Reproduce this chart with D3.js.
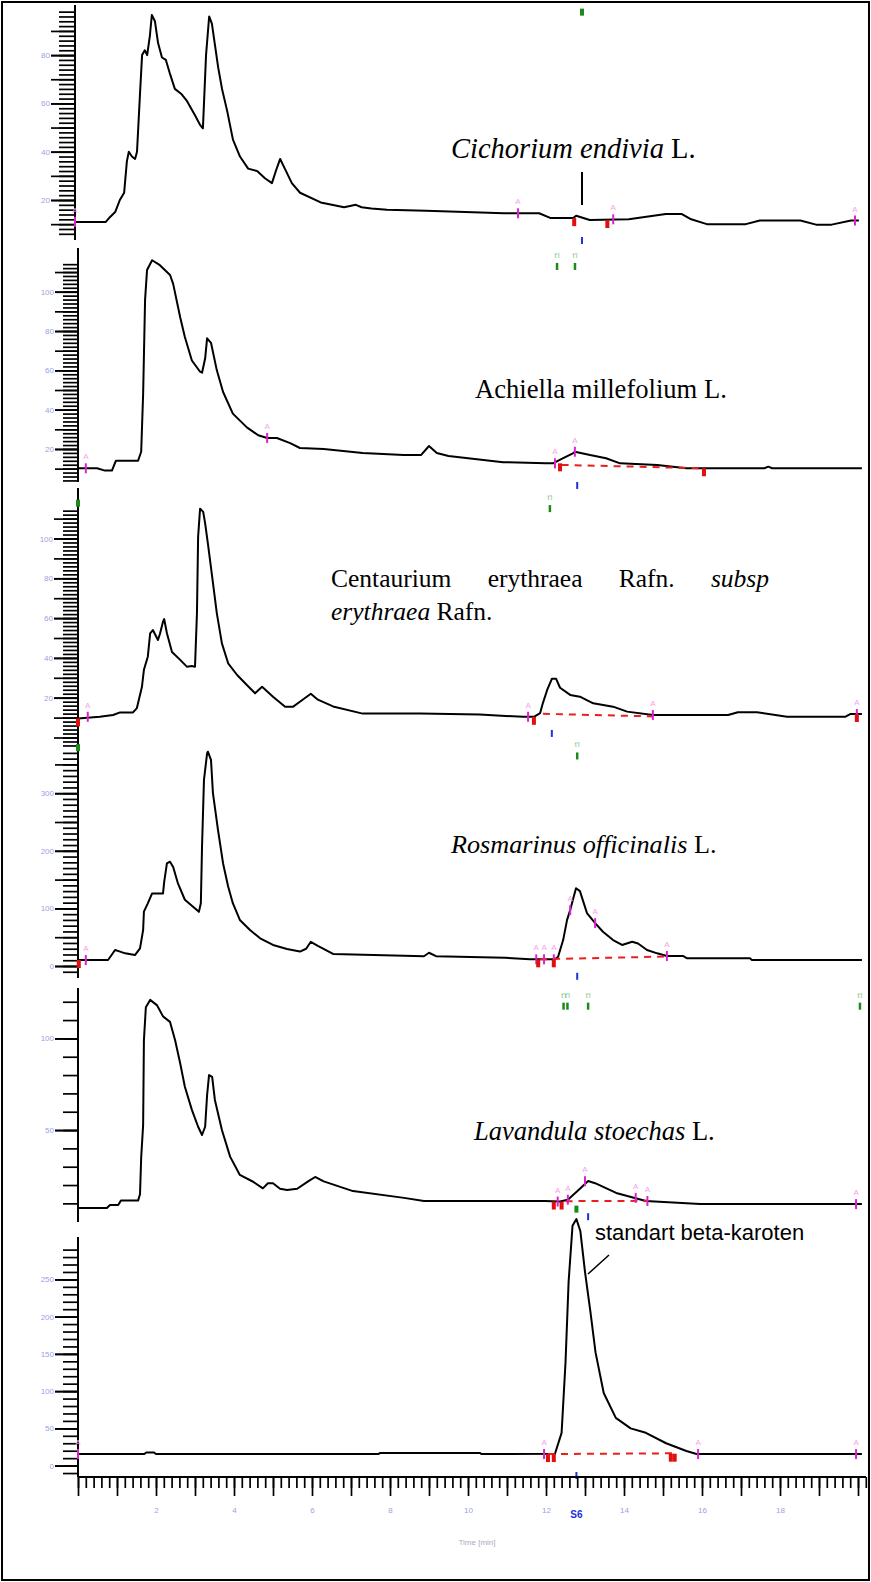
<!DOCTYPE html>
<html><head><meta charset="utf-8">
<script src="https://cdnjs.cloudflare.com/ajax/libs/d3/7.8.5/d3.min.js"></script>
<style>body{margin:0;background:#fff}svg{display:block}</style>
</head><body><svg id="c" width="871" height="1582"></svg>
<script>
// ---------------- DATA ----------------
const timeLabels = [2,4,6,8,10,12,14,16,18];

const p1T = [0,0.79,0.9,1.03,1.15,1.26,1.33,1.38,1.46,1.54,1.59,1.67,1.72,1.79,1.85,1.92,1.97,2.05,2.13,2.23,2.33,2.44,2.56,2.72,2.87,3.08,3.21,3.28,3.36,3.44,3.51,3.59,3.67,3.77,3.9,4.05,4.23,4.44,4.67,4.87,5.05,5.15,5.26,5.38,5.56,5.77,6.3,6.9,7.2,7.35,7.6,8,9,10,11,11.3,11.9,12.2,12.77,12.85,13.2,14.2,15.15,15.56,15.8,16.2,17.2,17.56,18.6,19.0,19.4,19.9,20.1];
const p1V = [10.9,10.9,13,15,20,23,36,40,38,37,40,65,80,82,80,88,96.6,94,85,79,78,72,66,64,61,55,51,49.7,80,96,93,84,75,66,57,45,38,33,32,29,27,32,37,33,27,23,19,17,18,17,16.5,16,15.5,15,14.5,14.5,14.5,12.5,12.5,13.5,11.7,12,14.2,14.2,12,10,10,11.5,11.5,9.8,9.8,11.5,11.5];

const p2T = [0,0.49,0.69,0.87,0.97,1.54,1.62,1.67,1.72,1.77,1.9,2.1,2.36,2.44,2.62,2.74,2.92,3.13,3.18,3.26,3.31,3.41,3.56,3.72,3.97,4.33,4.62,4.85,5.1,5.44,5.69,6.3,7.3,8.35,8.8,9.0,9.2,9.5,10.9,12.0,12.18,12.44,12.69,12.74,13.13,13.54,13.9,14.85,15.6,17.6,17.7,17.8,20.1];
const p2V = [10.2,10.2,9,9,14,14,18.6,48,96,111,116,113.5,108.5,104,87,77,65,59.3,58.8,66,76.3,74,60,49,38,31,27,25.6,25.6,23,20.5,20,18,17,17,21.5,18,16.4,13.3,12.7,12.7,15.3,17.8,18.6,16.9,15.3,12.7,11.9,10.2,10.2,11,10.2,10.2];

const p3T = [0,0.56,0.9,1.08,1.41,1.51,1.64,1.69,1.79,1.85,1.92,2.05,2.1,2.18,2.21,2.28,2.41,2.62,2.79,2.92,3.0,3.05,3.08,3.13,3.21,3.26,3.33,3.44,3.56,3.69,3.85,4.08,4.33,4.54,4.72,5.0,5.31,5.51,5.69,5.97,6.15,6.54,7.3,8.77,10.3,11.41,11.69,11.85,11.92,12.03,12.15,12.26,12.36,12.62,12.87,13.21,13.72,14.08,14.74,16.67,16.92,17.41,18.18,19.67,19.8,20.1];
const p3V = [9.6,10.4,11.3,12.6,12.6,14.8,25.5,34,40.6,52.3,54,49,52,58.2,59.5,52.4,43,39,35.6,35.9,35.5,62.4,100.9,115,113.4,107.6,97.5,80.8,62.4,47.3,37.3,31.4,26.4,22.2,25.5,20.5,15.5,15.4,18,22,19,15.6,12,12,11.5,10.4,10.4,12.3,17.3,23.9,29.5,29.5,25,21.4,20.5,17.2,15.5,13,11.3,11.3,12.7,12.7,10.4,10.4,11.8,11.8];

const p4T = [0,0.77,0.87,0.95,1.08,1.21,1.46,1.59,1.67,1.69,1.79,1.9,2.18,2.21,2.28,2.36,2.44,2.56,2.74,2.95,3.1,3.15,3.18,3.23,3.31,3.33,3.41,3.46,3.59,3.72,3.85,3.97,4.15,4.41,4.67,5.0,5.36,5.69,5.85,5.97,6.15,6.54,8.36,8.87,9.0,9.18,10.95,11.59,12.23,12.31,12.44,12.54,12.62,12.69,12.77,12.87,12.95,13.05,13.26,13.46,13.72,13.95,14.21,14.36,14.59,14.85,15.1,15.51,15.62,17.23,17.28,20.1];
const p4V = [10.4,10.4,20,27.8,25,22,19,30.7,62.5,94.3,108.8,126,126,146,178,181,172,144,115,103,94,109,207,323,369,372,358,300,236,178,138,109,80,62.5,48,36.5,29.5,25,30,42,35,21,17.7,17,23,17,14.2,11.6,11.6,16,45,80,97,115,135,130,113,92,74.5,59.5,45,36.5,42,39,27.8,22,17.4,17.4,13.4,13.4,10.4,10.4];

const p5T = [0,0.74,0.82,1.03,1.1,1.54,1.59,1.62,1.67,1.69,1.74,1.85,2.03,2.18,2.36,2.49,2.62,2.74,2.92,3.08,3.18,3.26,3.31,3.36,3.44,3.51,3.69,3.9,4.15,4.49,4.74,4.87,5.0,5.18,5.36,5.62,5.9,6.08,6.3,7.05,8.36,8.87,11.97,12.36,12.56,12.87,13.08,13.26,13.8,14.56,15.95,20.1];
const p5V = [7.5,7.5,9.1,9.1,11.5,11.5,15,35,52.7,99,117,121,118,112,109,99,86.4,73.6,61,51.8,47.3,51.8,69,80,79,66.4,50,35.5,25.5,21.8,18.2,21,21,18,17.3,18,22,24.4,22,16.7,13,11.3,11.3,11,12,18,22.2,21,15.7,11.3,9.6,9.6];

const p6T = [0,1.7,1.75,1.95,2.0,7.7,7.75,10.3,10.35,12.23,12.4,12.5,12.58,12.68,12.78,12.88,13.0,13.14,13.27,13.48,13.79,14.17,14.56,15.08,15.6,15.86,20.1];
const p6V = [15.5,15.5,17.5,17.5,15.5,15.5,17,17,15.5,16,44,138,247,322,331,315,260,206,152,97.5,64,50,44,30,19.6,15.5,15.5];

// integration baselines (red dashed): [panel, t0, v0, t1, v1]
const baselines = [[1,12.4,11.9,16.0,10.2],[2,11.92,11.9,14.74,10.6],[3,11.85,11.6,15.1,16.5],[4,12.5,11.2,14.6,11.4],[5,12.05,15.5,15.3,16.5]];
// magenta markers: [panel, t, v]
const magMarks = [[0,0,11],[0,11.36,14.5],[0,13.8,12],[0,20.0,11.5],[1,0.2,10.2],[1,4.85,25.6],[1,12.23,12.7],[1,12.74,18.6],[2,0.25,10.4],[2,11.54,10.4],[2,14.74,11.3],[2,19.97,11.8],[3,0.2,10.4],[3,11.75,11.6],[3,11.95,11.6],[3,12.2,11.6],[3,12.62,97],[3,13.26,74.5],[3,15.1,17.4],[4,12.3,11],[4,12.56,12],[4,13.0,22],[4,14.3,13],[4,14.6,11.3],[4,19.95,9.6],[5,0,15.5],[5,11.95,15.5],[5,15.9,15.5],[5,19.95,15.5]];
// red markers: [panel, t, v]
const redMarks = [[0,12.8,12.5],[0,13.65,11.7],[1,12.36,12.7],[1,16.05,10.2],[2,0,9.6],[2,11.69,10.4],[2,19.97,11.8],[3,0.02,10.4],[3,11.8,11.6],[3,12.2,11.6],[4,12.2,11],[4,12.4,11],[5,12.05,15.5],[5,12.2,15.5],[5,15.2,16],[5,15.3,16]];
// blue markers: [panel, t, v]
const blueMarks = [[0,13.0,3.4],[1,12.8,1.7],[2,12.15,2.3],[3,12.8,-17],[4,13.08,3],[5,12.78,-12.6]];
// green peak-id markers: [panel, t, v]
const greenMarks = [[0,12.36,-4],[0,12.82,-4],[1,12.1,-6],[2,12.8,-5],[3,12.45,-55],[3,12.55,-55],[3,13.08,-55],[3,20.05,-55]];
const greenTop = [[0,13.0,98],[2,0,118],[3,0,380],[5,12.78,345]];

// ---------------- DRAW ----------------
const svg = d3.select('#c');
svg.append('rect').attr('x',2).attr('y',2).attr('width',867).attr('height',1578)
  .attr('fill','none').attr('stroke','#000').attr('stroke-width',2);

const x = d3.scaleLinear().domain([0,20]).range([78,858]);
const X0 = 78;

const panels = [
  {T:p1T,V:p1V,dom:[0,100],rng:[248.3,6.8],axisY:[5,240],lo:6,hi:98,minor:2,mid:10,labels:[20,40,60,80],minorLen:16,midLen:24,dx:-3},
  {T:p2T,V:p2V,dom:[0,100],rng:[488.3,291.7],axisY:[248,482],lo:4,hi:114,minor:2,mid:10,labels:[20,40,60,80,100],minorLen:15,midLen:23,dx:0},
  {T:p3T,V:p3V,dom:[0,100],rng:[737.5,538.5],axisY:[488,748],lo:-4,hi:114,minor:2,mid:10,labels:[20,40,60,80,100],minorLen:15,midLen:24,dx:0},
  {T:p4T,V:p4V,dom:[0,300],rng:[966,793.2],axisY:[735,978],lo:-10,hi:370,minor:10,mid:50,labels:[0,100,200,300],minorLen:15,midLen:23,dx:0},
  {T:p5T,V:p5V,dom:[0,100],rng:[1221.7,1038.4],axisY:[988,1222],lo:10,hi:120,minor:10,mid:50,labels:[50,100],minorLen:15,midLen:23,dx:0},
  {T:p6T,V:p6V,dom:[0,250],rng:[1465.6,1279.4],axisY:[1237,1477],lo:-10,hi:290,minor:10,mid:50,labels:[0,50,100,150,200,250],minorLen:15,midLen:23,dx:0}
];

const labelColor = '#9aa2e6';
const line = d3.line().curve(d3.curveLinear);

panels.forEach((p,i)=>{
  const g = svg.append('g').attr('transform',`translate(${p.dx},0)`);
  p.y = d3.scaleLinear().domain(p.dom).range(p.rng);
  p.g = g;
  const y = p.y;
  g.append('line').attr('x1',X0).attr('x2',X0).attr('y1',p.axisY[0]).attr('y2',p.axisY[1])
    .attr('stroke','#000').attr('stroke-width',2);
  const minors = d3.range(p.lo, p.hi+0.001, p.minor);
  const mids = minors.filter(v=>Math.abs(v/p.mid-Math.round(v/p.mid))<1e-6);
  const ax1 = g.append('g').attr('transform',`translate(${X0},0)`)
    .call(d3.axisLeft(y).tickValues(minors).tickSize(p.minorLen).tickFormat(''));
  const ax2 = g.append('g').attr('transform',`translate(${X0},0)`)
    .call(d3.axisLeft(y).tickValues(mids).tickSize(p.midLen).tickFormat(''));
  const ax3 = g.append('g').attr('transform',`translate(${X0},0)`)
    .call(d3.axisLeft(y).tickValues(p.labels).tickSize(p.midLen).tickPadding(1).tickFormat(d3.format('d')));
  [ax1,ax2,ax3].forEach(a=>{
    a.select('.domain').remove();
    a.selectAll('line').attr('stroke','#000').attr('stroke-width',1.7);
  });
  ax3.selectAll('text').attr('fill',labelColor).attr('font-family','Liberation Sans, Arial, sans-serif')
    .attr('font-size',8);

  const pts = p.T.map((t,k)=>[x(t), y(p.V[k])]);
  g.append('path').attr('d',line(pts)).attr('fill','none').attr('stroke','#000')
    .attr('stroke-width',2).attr('stroke-linejoin','round');
});

baselines.forEach(b=>{
  const p = panels[b[0]];
  p.g.append('line').attr('x1',x(b[1])).attr('y1',p.y(b[2])).attr('x2',x(b[3])).attr('y2',p.y(b[4]))
    .attr('stroke','#e8201c').attr('stroke-width',2).attr('stroke-dasharray','7,6');
});
magMarks.forEach(m=>{
  const p = panels[m[0]]; const cx = x(m[1]), cy = p.y(m[2]);
  p.g.append('line').attr('x1',cx).attr('x2',cx).attr('y1',cy-5).attr('y2',cy+5)
    .attr('stroke','#e020d0').attr('stroke-width',2);
  p.g.append('text').attr('x',cx).attr('y',cy-9).attr('text-anchor','middle')
    .attr('font-size',8).attr('font-family','Liberation Sans, Arial').attr('fill','#f7a0ee').text('A');
});
redMarks.forEach(m=>{
  const p = panels[m[0]]; const cx = x(m[1]), cy = p.y(m[2]);
  p.g.append('rect').attr('x',cx-2).attr('y',cy).attr('width',4).attr('height',8).attr('fill','#e01010');
});
blueMarks.forEach(m=>{
  const p = panels[m[0]]; const cx = x(m[1]), cy = p.y(m[2]);
  p.g.append('line').attr('x1',cx).attr('x2',cx).attr('y1',cy-3).attr('y2',cy+4)
    .attr('stroke','#2030e0').attr('stroke-width',2);
});
greenMarks.forEach(m=>{
  const p = panels[m[0]]; const cx = x(m[1]), cy = p.y(m[2]);
  p.g.append('text').attr('x',cx).attr('y',cy).attr('text-anchor','middle')
    .attr('font-size',7).attr('font-family','Liberation Sans, Arial').attr('fill','#7cc07c').text("t'l");
  p.g.append('line').attr('x1',cx).attr('x2',cx).attr('y1',cy+5).attr('y2',cy+12)
    .attr('stroke','#1a8a1a').attr('stroke-width',2.5);
});
greenTop.forEach(m=>{
  const p = panels[m[0]]; const cx = x(m[1]), cy = p.y(m[2]);
  p.g.append('rect').attr('x',cx-2).attr('y',cy-3).attr('width',4).attr('height',7).attr('fill','#1a8a1a');
});

// time axis
const xa = svg.append('g').attr('transform','translate(0,1477)');
const tMinor = d3.range(0,20.21,0.2);
const tMajor = d3.range(0,21,1);
const xa1 = xa.append('g').call(d3.axisBottom(x).tickValues(tMinor).tickSize(11).tickFormat(''));
const xa2 = xa.append('g').call(d3.axisBottom(x).tickValues(tMajor).tickSize(19).tickFormat(''));
const xa3 = xa.append('g').call(d3.axisBottom(x).tickValues(timeLabels).tickSize(0).tickPadding(30).tickFormat(d3.format('d')));
[xa1,xa2,xa3].forEach(a=>{a.select('.domain').remove();a.selectAll('line').attr('stroke','#000').attr('stroke-width',1.7);});
xa3.selectAll('text').attr('fill',labelColor).attr('font-size',8).attr('font-family','Liberation Sans, Arial');
xa.append('line').attr('x1',78).attr('x2',866).attr('y1',0).attr('y2',0).attr('stroke','#000').attr('stroke-width',2);
svg.append('text').attr('x',477).attr('y',1545).attr('text-anchor','middle').attr('fill','#aab')
  .attr('font-size',8).attr('font-family','Liberation Sans, Arial').text('Time [min]');

svg.append('text').attr('x',x(12.78)).attr('y',1518).attr('text-anchor','middle').attr('fill','#2030e0')
  .attr('font-size',10).attr('font-weight','bold').attr('font-family','Liberation Sans, Arial').text('S6');

// annotations
const serif = 'Liberation Serif, Times New Roman, serif';
function label(xp, yp, parts, size){
  const t = svg.append('text').attr('x',xp).attr('y',yp).attr('font-family',serif).attr('font-size',size).attr('fill','#000');
  parts.forEach(pt=>t.append('tspan').attr('font-style',pt[1]?'italic':'normal').text(pt[0]));
  return t;
}
label(451,158,[['Cichorium endivia',1],[' L.',0]],28.5);
label(475,398,[['Achiella millefolium L.',0]],26.6);
// justified first line of the Centaurium label (last line left-aligned)
(function(){
  const words = [['Centaurium',0],['erythraea',0],['Rafn.',0],['subsp',1]];
  const size = 25.5, x0 = 331, x1 = 769, yb = 587;
  const nodes = words.map(w=>svg.append('text').attr('y',yb).attr('font-family',serif).attr('font-size',size)
    .attr('font-style',w[1]?'italic':'normal').attr('fill','#000').text(w[0]));
  const widths = nodes.map(n=>n.node().getComputedTextLength());
  const gap = (x1-x0-d3.sum(widths))/(words.length-1);
  let cx = x0;
  nodes.forEach((n,k)=>{ n.attr('x',cx); cx += widths[k]+gap; });
})();
label(331,620,[['erythraea',1],[' Rafn.',0]],25.5);
label(451,853,[['Rosmarinus officinalis',1],[' L.',0]],26.2);
label(474,1140,[['Lavandula stoechas',1],[' L.',0]],26.5);
svg.append('line').attr('x1',582).attr('x2',582).attr('y1',172).attr('y2',205).attr('stroke','#000').attr('stroke-width',2);
svg.append('text').attr('x',595).attr('y',1240).attr('font-family','Liberation Sans, Arial, sans-serif')
  .attr('font-size',22).attr('fill','#000').text('standart beta-karoten');
svg.append('line').attr('x1',588).attr('y1',1274).attr('x2',609).attr('y2',1255).attr('stroke','#000').attr('stroke-width',1.5);
</script></body></html>
